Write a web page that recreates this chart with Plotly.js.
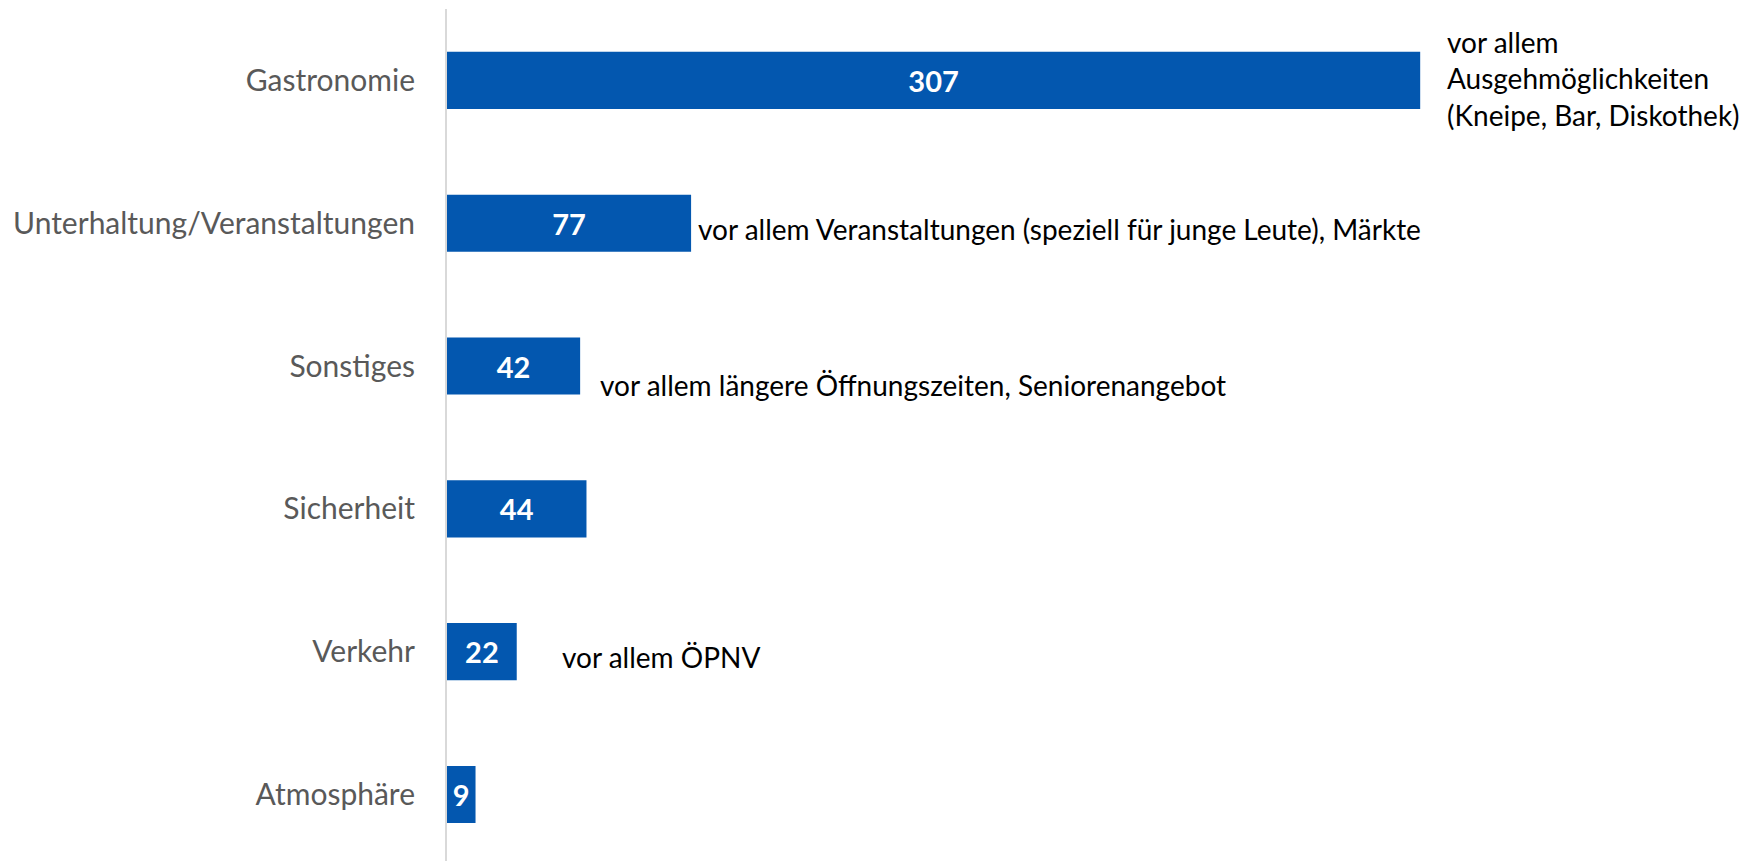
<!DOCTYPE html>
<html>
<head>
<meta charset="utf-8">
<script src="https://cdn.plot.ly/plotly-3.0.1.min.js"></script>
<style>html,body{margin:0;padding:0;background:#fff;}#chart{width:1742px;height:861px;}</style>
</head>
<body>
<div id="chart"></div>
<script>
const categories = ["Gastronomie", "Unterhaltung/Veranstaltungen", "Sonstiges", "Sicherheit", "Verkehr", "Atmosphäre"];
const counts = [307, 77, 42, 44, 22, 9];
const noteTexts = [
  "vor allem<br>Ausgehmöglichkeiten<br>(Kneipe, Bar, Diskothek)",
  "vor allem Veranstaltungen (speziell für junge Leute), Märkte",
  "vor allem längere Öffnungszeiten, Seniorenangebot",
  "",
  "vor allem ÖPNV",
  ""
];
const noteXShift = [25, 5, 18, 0, 43, 0];
const noteYShift = [2, -6, -19, 0, -5, 0];

const FONT = "Lato, 'Open Sans', sans-serif";

const trace = {
  type: "bar",
  orientation: "h",
  y: categories,
  x: counts,
  text: counts.map(String),
  textposition: "inside",
  insidetextanchor: "middle",
  constraintext: "none",
  textfont: {family: FONT, size: 29, color: "#ffffff", weight: 700},
  marker: {color: "#0357AF"},
  hoverinfo: "skip"
};

const annotations = [];
categories.forEach((c, i) => {
  if (!noteTexts[i]) return;
  annotations.push({
    x: counts[i], y: c, xref: "x", yref: "y",
    text: noteTexts[i], showarrow: false,
    xanchor: "left", yanchor: "middle", align: "left",
    xshift: noteXShift[i], yshift: noteYShift[i],
    font: {family: FONT, size: 28, color: "#000000"}
  });
});

const layout = {
  width: 1742, height: 861,
  margin: {l: 447, r: 27, t: 9, b: 0},
  paper_bgcolor: "#ffffff", plot_bgcolor: "#ffffff",
  showlegend: false,
  bargap: 0.6,
  xaxis: {range: [0, 400], showgrid: false, zeroline: false, showticklabels: false, showline: false, fixedrange: true},
  yaxis: {
    type: "category", range: [5.466, -0.5],
    showgrid: false, zeroline: false,
    showline: true, linecolor: "#d9d9d9", linewidth: 2,
    ticks: "outside", ticklen: 24, tickcolor: "rgba(0,0,0,0)",
    tickfont: {family: FONT, size: 30, color: "#595959"},
    fixedrange: true
  },
  annotations: annotations
};

Plotly.newPlot("chart", [trace], layout, {displayModeBar: false, staticPlot: true});
</script>
</body>
</html>
